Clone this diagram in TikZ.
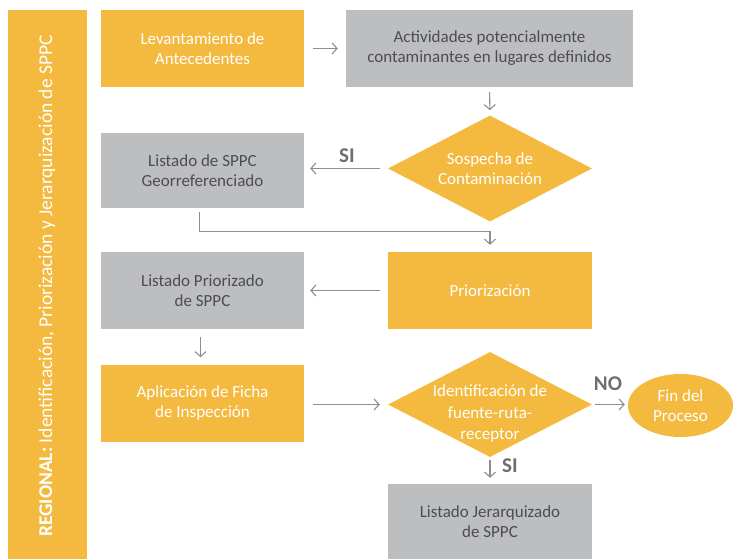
\documentclass[tikz,border=0pt]{standalone}
\usepackage{fontspec}
\setmainfont{Carlito}
\usepackage{xcolor}
\usetikzlibrary{shapes.geometric,arrows.meta,calc}

\definecolor{amarillo}{HTML}{F4B93F}
\definecolor{gris}{HTML}{BCBEC0}
\definecolor{flecha}{HTML}{8C8E90}
\definecolor{textogris}{HTML}{4D4D4F}
\definecolor{etiqueta}{HTML}{6D6E71}

\tikzset{
    caja/.style={rectangle, inner sep=0pt, align=center, font=\fontsize{17}{20}\selectfont},
    cajaam/.style={caja, fill=amarillo, text=white},
    cajagr/.style={caja, fill=gris, text=textogris},
    rombo/.style={diamond, fill=amarillo, inner sep=0pt, minimum width=204pt, minimum height=106pt},
    txtrombo/.style={text=white, align=center, font=\fontsize{17}{20}\selectfont},
    fin/.style={ellipse, fill=amarillo, text=white, inner sep=0pt, minimum width=105pt, minimum height=63pt, align=center, font=\fontsize{17}{20}\selectfont},
    arr/.style={draw=flecha, line width=1.1pt, -{Straight Barb[length=5pt,width=11pt]}},
    sino/.style={text=etiqueta, font=\fontsize{21}{21}\selectfont\bfseries}
}

\begin{document}
\begin{tikzpicture}[x=1pt,y=-1pt]
    \useasboundingbox (0,0) rectangle (734,559);

    % banda lateral
    \fill[amarillo] (8,10) rectangle (87,559);
    \node[rotate=90, text=white, font=\fontsize{19.5}{20}\selectfont] (banda) at (47,286)
        {\textbf{REGIONAL:} Identificación, Priorización y Jerarquización de SPPC};

    % cajas
    \node[cajaam, minimum width=203pt, minimum height=77pt] (lev) at (202.5,48.5) {Levantamiento de\\Antecedentes};
    \node[cajagr, minimum width=287pt, minimum height=77pt] (act) at (489.5,48.5) {Actividades potencialmente\\contaminantes en lugares definidos};
    \node[rombo, label={[txtrombo]center:{Sospecha de\\Contaminación}}] (sos) at (490,168.5) {};
    \node[cajagr, minimum width=203pt, minimum height=75pt] (geo) at (202.5,170.5) {Listado de SPPC\\Georreferenciado};
    \node[cajaam, minimum width=204pt, minimum height=77pt] (pri) at (490,290.5) {Priorización};
    \node[cajagr, minimum width=203pt, minimum height=77pt] (lpr) at (202.5,290.5) {Listado Priorizado\\de SPPC};
    \node[cajaam, minimum width=203pt, minimum height=77pt] (apl) at (202.5,403) {Aplicación de Ficha\\de Inspección};
    \node[rombo, minimum height=105pt, label={[txtrombo, yshift=-9pt, font=\fontsize{17}{21.5}\selectfont]center:{Identificación de\\fuente-ruta-\\receptor}}] (ide) at (490,404.5) {};
    \node[fin] (fp) at (680.5,405.5) {Fin del\\Proceso};
    \node[cajagr, minimum width=204pt, minimum height=75pt] (jer) at (490,521.5) {Listado Jerarquizado\\de SPPC};

    % conectores
    \draw[arr, shorten <=9pt, shorten >=8pt] (lev.east) -- (act.west);
    \draw[arr, shorten <=5pt, shorten >=5pt] (act.south) -- (sos.north);
    \draw[arr, shorten <=8pt, shorten >=6pt] (sos.west) -- (sos.west -| geo.east);
    \draw[arr] ($(geo.south)+(-3,4)$) -- ++(0,19) -| ($(pri.north)+(0,-7)$);
    \draw[arr, shorten <=8pt, shorten >=6pt] (pri.west) -- (lpr.east);
    \draw[arr, shorten <=8pt, shorten >=7pt] ($(lpr.south)+(-2,0)$) -- ($(apl.north)+(-2,0)$);
    \draw[arr, shorten <=9pt, shorten >=8pt] (ide.west -| apl.east) -- (ide.west);
    \draw[arr, shorten <=3pt, shorten >=3pt] (ide.east) -- (ide.east -| fp.west);
    \draw[arr, shorten <=3pt, shorten >=6pt] (ide.south) -- (jer.north);

    % etiquetas
    \node[sino] (si1) at (347,156) {SI};
    \node[sino] (no) at (608,384) {NO};
    \node[sino] (si2) at (510,466) {SI};
\end{tikzpicture}
\end{document}
